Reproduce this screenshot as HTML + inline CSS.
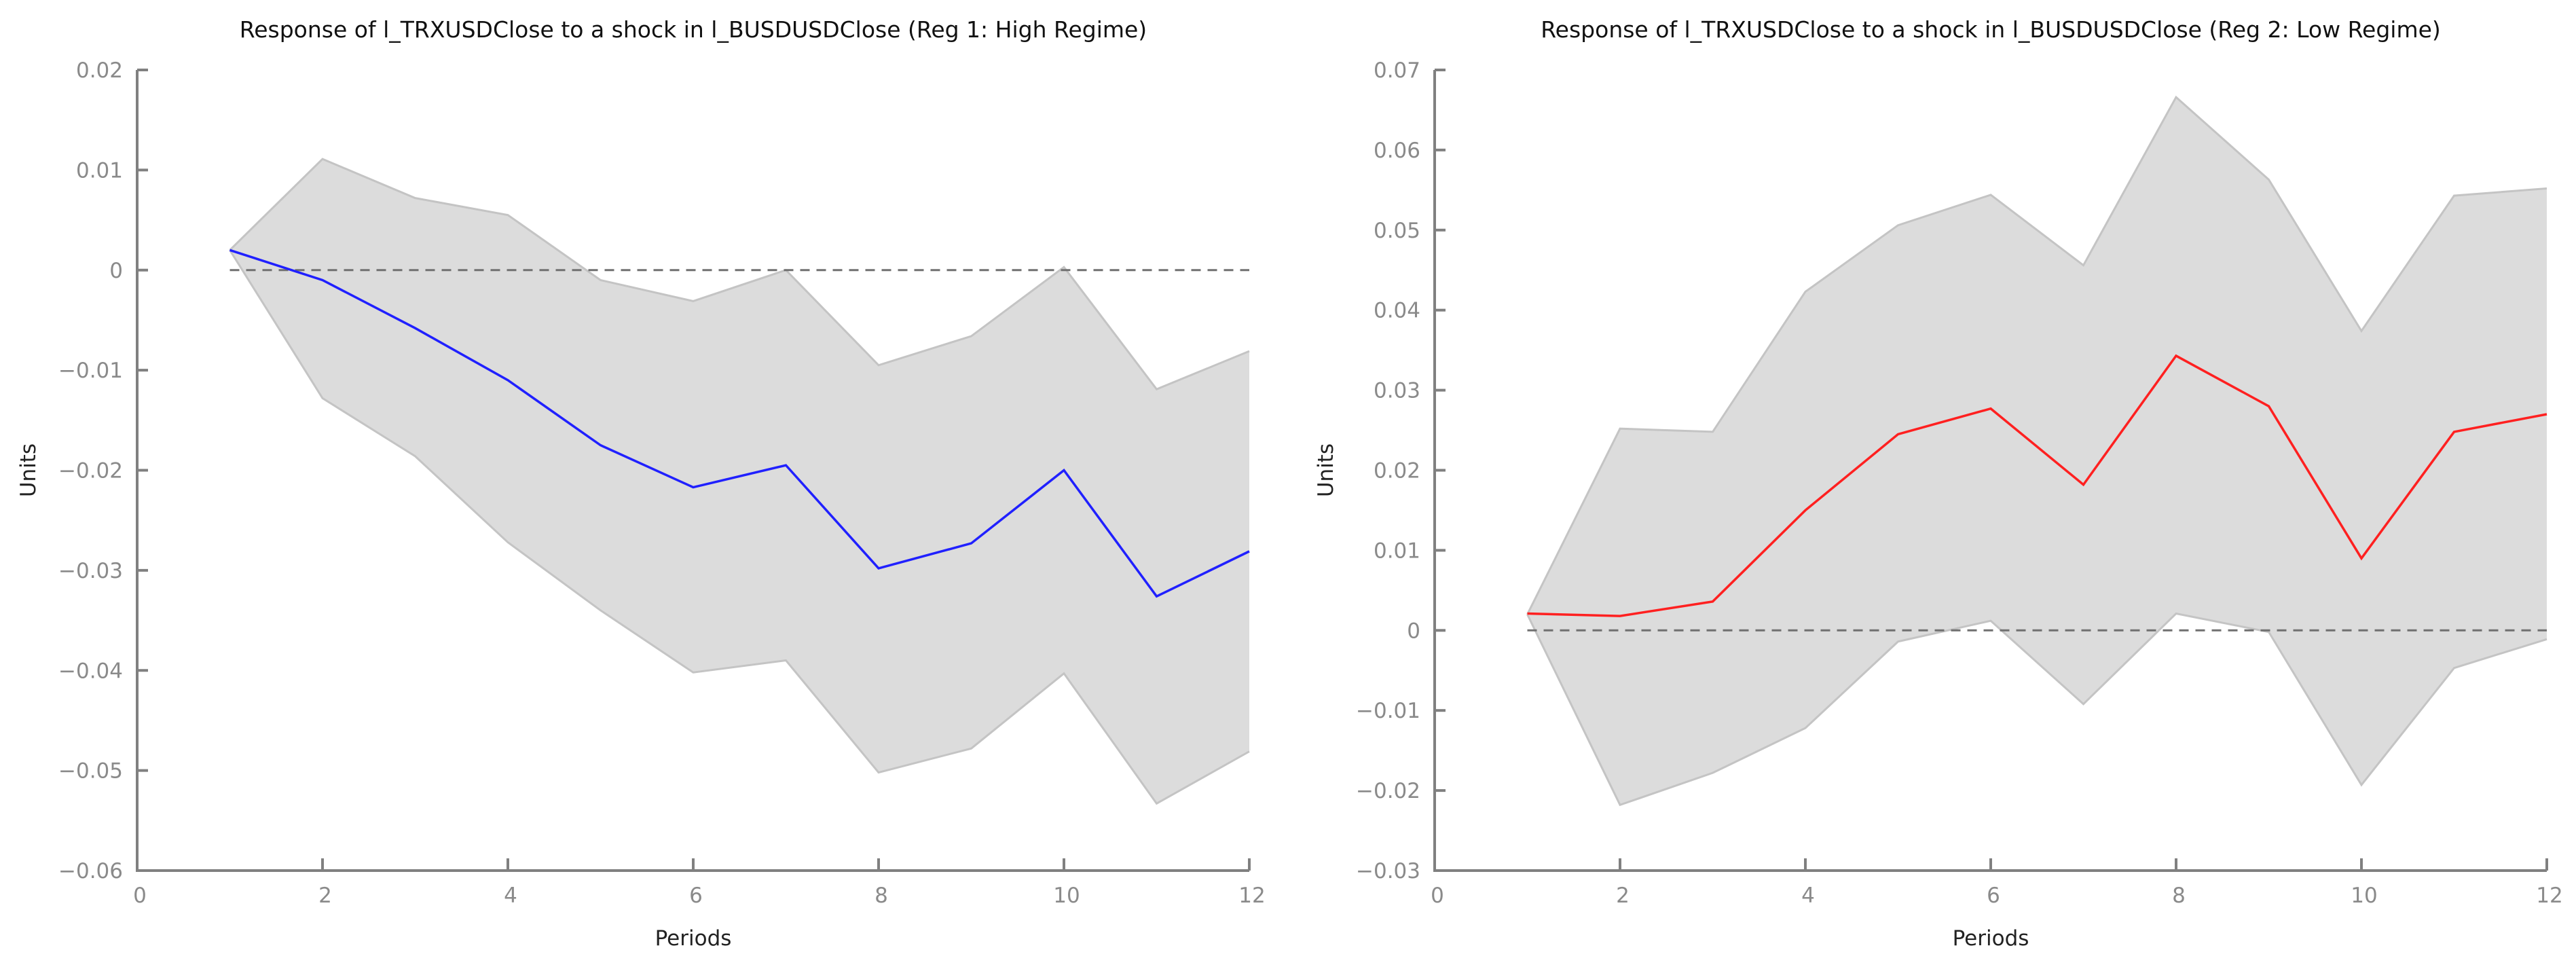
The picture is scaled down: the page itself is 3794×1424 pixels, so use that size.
<!DOCTYPE html>
<html><head><meta charset="utf-8"><style>
html,body{margin:0;padding:0;background:#fff;}
svg{display:block;font-family:"DejaVu Sans","Liberation Sans",sans-serif;}
</style></head><body>
<svg id="svg" width="3794" height="1424" viewBox="0 0 3794 1424" xmlns="http://www.w3.org/2000/svg"></svg>
<script>
const periods = [1,2,3,4,5,6,7,8,9,10,11,12];
const xTicks = [0,2,4,6,8,10,12];
const resp1 = [0.002,-0.001,-0.0058,-0.011,-0.0175,-0.0217,-0.0195,-0.0298,-0.0273,-0.0200,-0.0326,-0.0281];
const upper1 = [0.002,0.0111,0.0072,0.0055,-0.001,-0.0031,0.0000,-0.0095,-0.0066,0.0003,-0.0119,-0.0081];
const lower1 = [0.002,-0.0128,-0.0186,-0.0272,-0.034,-0.0402,-0.0390,-0.0502,-0.0478,-0.0403,-0.0533,-0.0481];
const yTicks1 = [0.02,0.01,0,-0.01,-0.02,-0.03,-0.04,-0.05,-0.06];
const yLabels1 = ["0.02","0.01","0","\u22120.01","\u22120.02","\u22120.03","\u22120.04","\u22120.05","\u22120.06"];
const resp2 = [0.0021,0.0018,0.0036,0.015,0.0245,0.0277,0.0182,0.0343,0.0280,0.0090,0.0248,0.0270];
const upper2 = [0.002,0.0252,0.0248,0.0423,0.0506,0.0544,0.0456,0.0666,0.0563,0.0374,0.0543,0.0552];
const lower2 = [0.002,-0.0218,-0.0178,-0.0122,-0.0014,0.0012,-0.0092,0.0021,-0.0002,-0.0193,-0.0047,-0.0011];
const yTicks2 = [0.07,0.06,0.05,0.04,0.03,0.02,0.01,0,-0.01,-0.02,-0.03];
const yLabels2 = ["0.07","0.06","0.05","0.04","0.03","0.02","0.01","0","\u22120.01","\u22120.02","\u22120.03"];

const NS="http://www.w3.org/2000/svg";
const svg=document.getElementById('svg');
function mk(tag,attrs,parent){const e=document.createElementNS(NS,tag);for(const k in attrs)e.setAttribute(k,attrs[k]);(parent||svg).appendChild(e);return e;}

function chart(cfg){
  const g=mk('g',{});
  
  
  const x0=cfg.x0,x1=cfg.x0+1638,yT=103,yB=1282;
  const ymax=cfg.yTicks[0],ymin=cfg.yTicks[cfg.yTicks.length-1];
  const X=v=>x0+(v-0)/(12-0)*(x1-x0);
  const Y=v=>yT+(ymax-v)/(ymax-ymin)*(yB-yT);
  let pts=periods.map((p,i)=>X(p)+','+Y(cfg.upper[i]));
  pts=pts.concat(periods.slice().reverse().map((p,j)=>{const i=periods.length-1-j;return X(p)+','+Y(cfg.lower[i]);}));
  const band=mk('polygon',{points:pts.join(' '),fill:'#dcdcdc',stroke:'none'},g);
  
  
  const up=mk('polyline',{points:periods.map((p,i)=>X(p)+','+Y(cfg.upper[i])).join(' '),fill:'none',stroke:'#c4c4c4','stroke-width':3},g);
  
  
  const lo=mk('polyline',{points:periods.map((p,i)=>X(p)+','+Y(cfg.lower[i])).join(' '),fill:'none',stroke:'#c4c4c4','stroke-width':3},g);
  
  
  const zl=mk('line',{x1:X(1),x2:X(12),y1:Y(0),y2:Y(0),stroke:'#707070','stroke-width':3,'stroke-dasharray':'14 10'},g);
  
  
  const ln=mk('polyline',{points:periods.map((p,i)=>X(p)+','+Y(cfg.resp[i])).join(' '),fill:'none',stroke:cfg.color,'stroke-width':3.5},g);
  
  
  const ax=mk('path',{d:`M${x0},${yT} V${yB} H${x1}`,fill:'none',stroke:'#808080','stroke-width':4},g);
  
  
  cfg.yTicks.forEach((v,i)=>{
    const y=Y(v);
    const t=mk('line',{x1:x0,x2:x0+16,y1:y,y2:y,stroke:'#808080','stroke-width':4},g);
    
    
    const l=mk('text',{x:x0-21,y:y+11,'text-anchor':'end','font-size':31,fill:'#8a8a8a'},g);
    l.textContent=cfg.yLabels[i];
    
    
  });
  xTicks.forEach(v=>{
    const x=X(v);
    if(v>0){const t=mk('line',{x1:x,x2:x,y1:yB,y2:yB-18,stroke:'#808080','stroke-width':4},g);
    
    }
    const l=mk('text',{x:x+4,y:1329,'text-anchor':'middle','font-size':31,fill:'#8a8a8a'},g);
    l.textContent=String(v);
    
    
  });
  const ti=mk('text',{x:(x0+x1)/2,y:55,'text-anchor':'middle','font-size':33,fill:'#111'},g);
  ti.textContent=cfg.title;
  
  
  const xt=mk('text',{x:(x0+x1)/2,y:1392,'text-anchor':'middle','font-size':31,fill:'#222'},g);
  xt.textContent='Periods';
  
  
  const yx=cfg.x0-150, yy=(yT+yB)/2;
  const yt=mk('text',{x:yx,y:yy,'text-anchor':'middle','font-size':31,fill:'#222',transform:`rotate(-90 ${yx} ${yy})`},g);
  yt.textContent='Units';
  
  
}
chart({name:'chart-high-regime',x0:202,resp:resp1,upper:upper1,lower:lower1,yTicks:yTicks1,yLabels:yLabels1,color:'#2020ff',title:'Response of l_TRXUSDClose to a shock in l_BUSDUSDClose (Reg 1: High Regime)'});
chart({name:'chart-low-regime',x0:2113,resp:resp2,upper:upper2,lower:lower2,yTicks:yTicks2,yLabels:yLabels2,color:'#ff2020',title:'Response of l_TRXUSDClose to a shock in l_BUSDUSDClose (Reg 2: Low Regime)'});
</script>
</body></html>
